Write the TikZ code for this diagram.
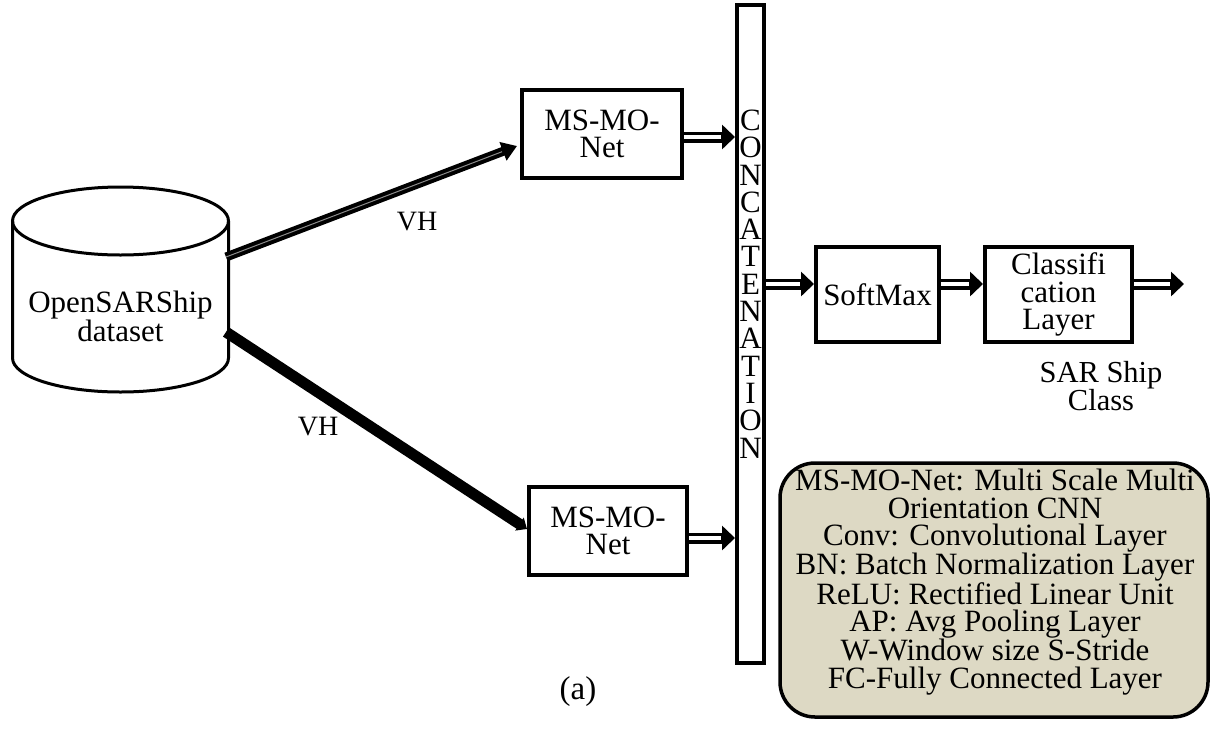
\documentclass[tikz,border=0pt]{standalone}
\usepackage{fontspec}
\setmainfont{Liberation Serif}
\usetikzlibrary{arrows.meta}
\definecolor{legendfill}{HTML}{DDD9C4}
\begin{document}
\begin{tikzpicture}[x=1pt,y=-1pt,
  txt/.style={font=\fontsize{31}{27.5}\selectfont, align=center, inner sep=0pt},
  box/.style={draw, line width=4pt, fill=white, inner sep=0pt, txt},
  dbl/.style={line width=11pt, -{Triangle[length=13pt,width=24pt]},
    postaction={draw=white, line width=4pt, shorten >=14pt, -}},
  thinarr/.style={line width=9pt, -{Triangle[length=15pt,width=19pt]},
    postaction={draw=black!45, line width=1pt, shorten >=16pt, -}},
  thickarr/.style={line width=11pt, -{Triangle[length=9pt,width=15pt]}},
  lbl/.style={font=\fontsize{28}{28}\selectfont, inner sep=0pt}
]
\useasboundingbox (0,0) rectangle (1220,729);

% database cylinder
\draw[line width=3pt, fill=white] (12.5,221) -- (12.5,358)
  arc[start angle=180, end angle=0, x radius=108, y radius=34] -- (228.5,221);
\draw[line width=3pt] (120.5,221) ellipse [x radius=108, y radius=34];
\node[txt] (db) at (120.5,316) {OpenSARShip\\dataset};
\coordinate (dbA) at (226,257);
\coordinate (dbB) at (226,332);

% MS-MO-Net boxes
\node[box, minimum width=160pt, minimum height=88pt] (net1) at (602,134) {MS-MO-\\Net};
\node[box, minimum width=158pt, minimum height=88pt] (net2) at (608,531) {MS-MO-\\Net};

% concatenation bar
\node[box, minimum width=27pt, minimum height=658pt] (cat) at (750.5,334) {};
\node[txt, font=\fontsize{31}{27.3}\selectfont] (catlbl) at (750.5,284)
  {C\\O\\N\\C\\A\\T\\E\\N\\A\\T\\I\\O\\N};

% softmax and classification
\node[box, minimum width=123pt, minimum height=95pt] (sm) at (877.5,294.5) {SoftMax};
\node[box, minimum width=147pt, minimum height=95pt] (cls) at (1058.5,294.5) {Classifi\\cation\\Layer};
\coordinate (out) at (1184,284);

% connectors
\draw[thinarr] (dbA) -- ([yshift=-12pt, xshift=-3pt]net1.west);
\draw[thickarr] (dbB) -- ([yshift=2pt]net2.west);
\node[lbl] (vh1) at (417,222) {VH};
\node[lbl] (vh2) at (318,427) {VH};

\draw[dbl] ([yshift=-3pt]net1.east) -- ([yshift=-3pt]net1.east -| cat.west);
\draw[dbl] ([yshift=-7pt]net2.east) -- ([yshift=-7pt]net2.east -| cat.west);
\draw[dbl] (cat.east |- out) -- (sm.west |- out);
\draw[dbl] (sm.east |- out) -- (cls.west |- out);
\draw[dbl] (cls.east |- out) -- (out);

\node[txt, font=\fontsize{30.5}{25.5}\selectfont] (cls2) at (1101,386) {SAR Ship\\Class};

% legend
\node[draw, line width=3.5pt, fill=legendfill, rounded corners=35pt,
  minimum width=428pt, minimum height=254pt, inner sep=0pt] (legend) at (994,590) {};
\node[txt, font=\fontsize{31}{27.4}\selectfont] (legtxt) at (995,582)
  {MS-MO-Net: Multi Scale Multi\\Orientation CNN\\Conv: Convolutional Layer\\BN: Batch Normalization Layer\\ReLU: Rectified Linear Unit\\AP: Avg Pooling Layer\\W-Window size S-Stride\\FC-Fully Connected Layer};

\node[txt, font=\fontsize{33}{33}\selectfont] (cap) at (578,692) {(a)};
\end{tikzpicture}
\end{document}
